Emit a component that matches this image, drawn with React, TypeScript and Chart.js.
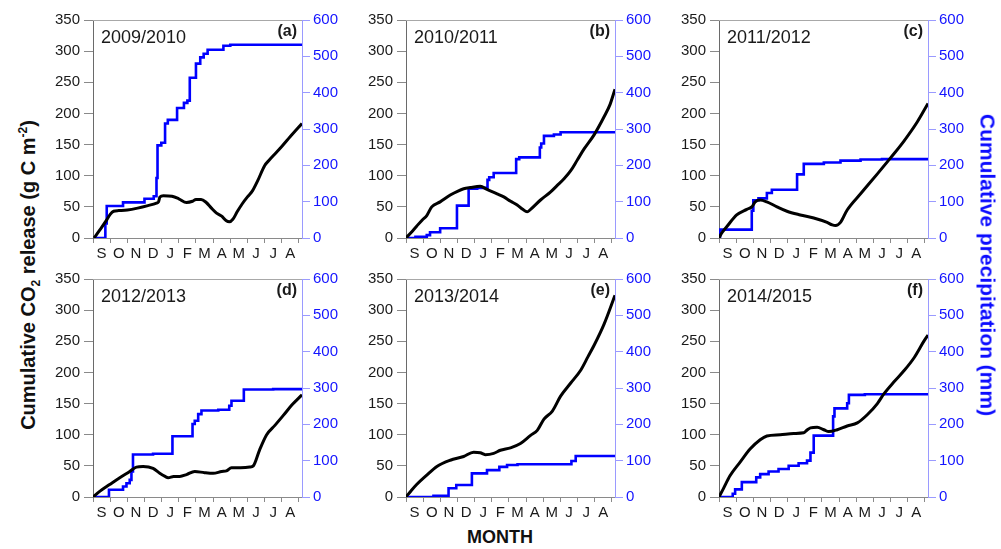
import React, { useEffect, useRef } from 'react';
import { Chart, registerables } from 'chart.js';

Chart.register(...registerables);

// Hydrological-year month initials, September to August
const MONTHS = ['S', 'O', 'N', 'D', 'J', 'F', 'M', 'A', 'M', 'J', 'J', 'A'];
// The x axis runs a few days past the last month boundary
const SEASON_END = 12.18;

const SEASONS = ['2009/2010', '2010/2011', '2011/2012', '2012/2013', '2013/2014', '2014/2015'];
const PANEL_TAGS = ['(a)', '(b)', '(c)', '(d)', '(e)', '(f)'];

type Pt = [number, number]; // [months since 1 September, cumulative value]

// Cumulative CO2 release (g C m-2)
const co2_2009: Pt[] = [[0.06, 0], [0.4, 13], [0.75, 27], [1.0, 38], [1.2, 43], [1.5, 44], [2.0, 45], [2.6, 48], [3.2, 52], [3.7, 56], [3.82, 58], [3.9, 66], [4.1, 68], [4.6, 67], [5.0, 63], [5.45, 57], [5.8, 59], [6.0, 62], [6.3, 62], [6.6, 57], [6.9, 48], [7.2, 40], [7.5, 35], [7.75, 28], [7.95, 26], [8.15, 30], [8.4, 42], [8.7, 55], [9.0, 66], [9.3, 76], [9.6, 92], [10.0, 116], [10.3, 126], [10.6, 135], [11.0, 147], [11.5, 163], [12.18, 184]];
const co2_2010: Pt[] = [[0, 0], [0.3, 9], [0.62, 19], [0.95, 29], [1.21, 36], [1.5, 50], [1.99, 58], [2.58, 69], [3.0, 75], [3.36, 79], [3.75, 81], [4.33, 83], [4.72, 78], [5.31, 71], [5.7, 66], [6.1, 59], [6.48, 53], [6.8, 46], [7.06, 42], [7.26, 46], [7.84, 61], [8.43, 74], [8.8, 84], [9.21, 95], [9.6, 108], [10.0, 126], [10.38, 143], [10.97, 166], [11.55, 195], [11.9, 215], [12.18, 239]];
const co2_2011: Pt[] = [[0, 0], [0.16, 8], [0.45, 18], [1.03, 37], [1.62, 46], [1.91, 50], [2.11, 58], [2.4, 61], [2.79, 58], [3.38, 50], [3.96, 43], [4.74, 37], [5.52, 32], [6.3, 25], [6.6, 21], [6.79, 20], [7.08, 25], [7.47, 45], [8.25, 71], [9.23, 103], [10.01, 129], [10.79, 156], [11.57, 187], [12.18, 216]];
const co2_2012: Pt[] = [[0, 0], [0.39, 9], [0.97, 20], [1.56, 31], [2.14, 41], [2.53, 48], [2.92, 49], [3.5, 46], [3.89, 38], [4.2, 33], [4.38, 31], [4.7, 33], [5.06, 33], [5.45, 36], [5.93, 41], [6.5, 39], [7.0, 38], [7.5, 41], [7.78, 42], [8.07, 47], [8.6, 47], [9.14, 48], [9.34, 50], [9.7, 75], [10.12, 100], [10.6, 115], [11.09, 131], [11.6, 148], [12.18, 164]];
const co2_2013: Pt[] = [[0, 0], [0.3, 10], [0.62, 20], [1.21, 35], [1.8, 49], [2.58, 59], [3.36, 65], [3.94, 72], [4.33, 71], [4.62, 68], [5.11, 70], [5.5, 75], [6.09, 79], [6.67, 86], [7.26, 99], [7.65, 107], [8.04, 125], [8.53, 138], [9.01, 162], [9.6, 183], [10.19, 204], [10.6, 225], [10.97, 244], [11.55, 278], [12.18, 324]];
const co2_2014: Pt[] = [[0, 0], [0.25, 13], [0.64, 34], [1.23, 56], [1.81, 77], [2.4, 92], [2.79, 98], [3.57, 100], [4.35, 102], [4.94, 103], [5.15, 108], [5.33, 111], [5.72, 112], [6.11, 108], [6.4, 105], [6.89, 108], [7.47, 114], [8.06, 119], [8.64, 132], [9.23, 150], [9.62, 166], [10.2, 185], [10.79, 203], [11.38, 224], [11.96, 251], [12.18, 260]];

// Cumulative precipitation (mm), each total starting at its date
const rain_2009: Pt[] = [[0.06, 0], [0.72, 40], [0.8, 88], [1.75, 98], [3.0, 108], [3.54, 115], [3.7, 165], [3.76, 255], [3.98, 262], [4.2, 315], [4.36, 325], [4.9, 358], [5.3, 372], [5.5, 378], [5.64, 441], [6.0, 480], [6.25, 497], [6.45, 507], [6.68, 518], [7.6, 529], [8.0, 532], [12.18, 532]];
const rain_2010: Pt[] = [[0, 0], [0.55, 3], [1.21, 8], [1.4, 16], [1.99, 27], [2.97, 89], [3.65, 136], [4.15, 138], [4.75, 160], [4.85, 167], [5.11, 179], [6.42, 217], [6.6, 222], [7.8, 249], [7.88, 260], [8.04, 281], [8.62, 285], [9.01, 291], [12.18, 291]];
const rain_2011: Pt[] = [[0, 0], [0.06, 23], [1.91, 75], [2.0, 104], [2.3, 109], [2.79, 124], [3.08, 133], [4.55, 175], [4.94, 204], [6.11, 208], [7.08, 213], [8.25, 216], [9.5, 217], [12.18, 217]];
const rain_2012: Pt[] = [[0, 0], [0.93, 20], [1.75, 29], [1.95, 38], [2.14, 47], [2.24, 70], [2.33, 117], [3.5, 119], [4.63, 167], [5.8, 201], [5.93, 210], [6.13, 228], [6.32, 238], [7.3, 240], [7.94, 251], [8.07, 265], [8.79, 296], [10.5, 297], [12.18, 298]];
const rain_2013: Pt[] = [[0, 0], [1.6, 3], [2.48, 24], [2.93, 33], [3.84, 65], [4.72, 74], [5.44, 83], [5.89, 88], [6.5, 90], [9.64, 99], [9.89, 113], [12.18, 113]];
const rain_2014: Pt[] = [[0, 0], [0.8, 9], [0.94, 21], [1.33, 41], [2.17, 54], [2.4, 63], [2.89, 70], [3.47, 77], [4.06, 86], [4.64, 93], [5.13, 100], [5.33, 122], [5.52, 169], [6.65, 222], [6.73, 244], [7.47, 258], [7.57, 281], [8.5, 283], [12.18, 283]];

const CO2_SERIES = [co2_2009, co2_2010, co2_2011, co2_2012, co2_2013, co2_2014];
const RAIN_SERIES = [rain_2009, rain_2010, rain_2011, rain_2012, rain_2013, rain_2014];

const FONT = '"Liberation Sans", Arial, Helvetica, sans-serif';
const INK = '#1a1a1a';
const BLUE = '#0000ff';
const BLUE_TEXT = '#1414ff';
const BLUE_AXIS = '#9a9aff';
const GREY_AXIS = '#8a8a8a';

// Panel frame: plot-area size and the space reserved around it for axes
const PLOT_W = 209;
const PLOT_H = 221;
const LEFT_W = 50;
const RIGHT_W = 50;
const TOP_PAD = 10;
const BOTTOM_H = 30;
const COL_X = [93, 406, 719];
const ROW_Y = [17, 276];

const panelText = {
  id: 'panelText',
  afterDatasetsDraw(chart: any, _args: any, opts: any) {
    const { ctx, chartArea: a } = chart;
    ctx.save();
    // top frame line
    ctx.strokeStyle = '#a8a8a8';
    ctx.lineWidth = 1;
    ctx.beginPath();
    ctx.moveTo(a.left, a.top + 0.5);
    ctx.lineTo(a.right, a.top + 0.5);
    ctx.stroke();
    // season and panel tag
    ctx.fillStyle = INK;
    ctx.textBaseline = 'middle';
    ctx.textAlign = 'left';
    ctx.font = `18px ${FONT}`;
    ctx.fillText(opts.season, a.left + 8, a.top + 18);
    ctx.textAlign = 'right';
    ctx.font = `bold 16px ${FONT}`;
    ctx.fillText(opts.tag, a.right - 5, a.top + 12);
    ctx.restore();
  },
};

function Panel({ index }: { index: number }) {
  const ref = useRef<HTMLCanvasElement | null>(null);
  const col = index % 3;
  const row = Math.floor(index / 3);
  const width = LEFT_W + PLOT_W + RIGHT_W;
  const height = TOP_PAD + PLOT_H + BOTTOM_H;

  useEffect(() => {
    if (!ref.current) return;
    const tickFont = { family: FONT, size: 15 };
    const chart = new Chart(ref.current, {
      type: 'line',
      data: {
        datasets: [
          {
            label: 'CO2',
            data: CO2_SERIES[index].map(([x, y]) => ({ x, y })),
            yAxisID: 'y',
            borderColor: '#000000',
            borderWidth: 3,
            pointRadius: 0,
            cubicInterpolationMode: 'monotone',
            fill: false,
          },
          {
            label: 'Precipitation',
            data: RAIN_SERIES[index].map(([x, y]) => ({ x, y })),
            yAxisID: 'y1',
            borderColor: BLUE,
            borderWidth: 2.6,
            pointRadius: 0,
            // hold the previous total until the next date, then jump
            stepped: 'before',
            fill: false,
          },
        ],
      },
      options: {
        animation: false,
        responsive: false,
        devicePixelRatio: 1,
        layout: { padding: { top: TOP_PAD, left: 0, right: 0, bottom: 0 } },
        plugins: {
          legend: { display: false },
          tooltip: { enabled: false },
          panelText: { season: SEASONS[index], tag: PANEL_TAGS[index] },
        } as any,
        scales: {
          x: {
            type: 'linear',
            min: 0,
            max: SEASON_END,
            afterBuildTicks: (s: any) => {
              s.ticks = [...MONTHS, ''].map((_, i) => ({ value: i }));
            },
            afterFit: (s: any) => {
              s.height = BOTTOM_H;
            },
            ticks: {
              autoSkip: false,
              maxRotation: 0,
              padding: 2,
              labelOffset: PLOT_W / SEASON_END / 2,
              color: INK,
              font: tickFont,
              callback: (_v: any, i: number) => MONTHS[i] ?? '',
            },
            grid: { drawOnChartArea: false, drawTicks: true, tickLength: 5, tickColor: GREY_AXIS },
            border: { color: GREY_AXIS, width: 1 },
          },
          y: {
            type: 'linear',
            position: 'left',
            min: 0,
            max: 350,
            afterFit: (s: any) => {
              s.width = LEFT_W;
            },
            ticks: { stepSize: 50, padding: 4, color: INK, font: tickFont },
            grid: { drawOnChartArea: false, drawTicks: true, tickLength: 9, tickColor: GREY_AXIS },
            border: { color: '#6a6a6a', width: 1 },
          },
          y1: {
            type: 'linear',
            position: 'right',
            min: 0,
            max: 600,
            afterFit: (s: any) => {
              s.width = RIGHT_W;
            },
            ticks: { stepSize: 100, padding: 3, color: BLUE_TEXT, font: tickFont },
            grid: { drawOnChartArea: false, drawTicks: true, tickLength: 8, tickColor: BLUE_AXIS },
            border: { color: BLUE_AXIS, width: 1 },
          },
        },
      } as any,
      plugins: [panelText],
    });
    return () => chart.destroy();
  }, [index]);

  return (
    <canvas
      ref={ref}
      width={width}
      height={height}
      style={{
        position: 'absolute',
        left: COL_X[col] - LEFT_W,
        top: ROW_Y[row] - TOP_PAD,
        width,
        height,
      }}
    />
  );
}

const smallStyle: React.CSSProperties = { fontSize: '0.6em', lineHeight: 0 };

export default function App() {
  return (
    <div
      style={{
        position: 'absolute',
        left: 0,
        top: 0,
        width: 1001,
        height: 549,
        background: '#ffffff',
        overflow: 'hidden',
        fontFamily: FONT,
      }}
    >
      {SEASONS.map((s, i) => (
        <Panel key={s} index={i} />
      ))}
      <div
        style={{
          position: 'absolute',
          left: 28,
          top: 275,
          transform: 'translate(-50%, -50%) rotate(-90deg)',
          whiteSpace: 'nowrap',
          fontWeight: 'bold',
          fontSize: 20,
          lineHeight: 1,
          color: '#111111',
        }}
      >
        Cumulative CO<sub style={{ ...smallStyle, verticalAlign: 'sub' }}>2</sub> release (g C m
        <sup style={{ ...smallStyle, verticalAlign: 'super' }}>-2</sup>)
      </div>
      <div
        style={{
          position: 'absolute',
          left: 988,
          top: 265,
          transform: 'translate(-50%, -50%) rotate(90deg)',
          whiteSpace: 'nowrap',
          fontWeight: 'bold',
          fontSize: 21,
          lineHeight: 1,
          color: '#0a0aff',
        }}
      >
        Cumulative precipitation (mm)
      </div>
      <div
        style={{
          position: 'absolute',
          left: 500,
          top: 537,
          transform: 'translate(-50%, -50%)',
          whiteSpace: 'nowrap',
          fontWeight: 'bold',
          fontSize: 18,
          lineHeight: 1,
          color: '#111111',
        }}
      >
        MONTH
      </div>
    </div>
  );
}
